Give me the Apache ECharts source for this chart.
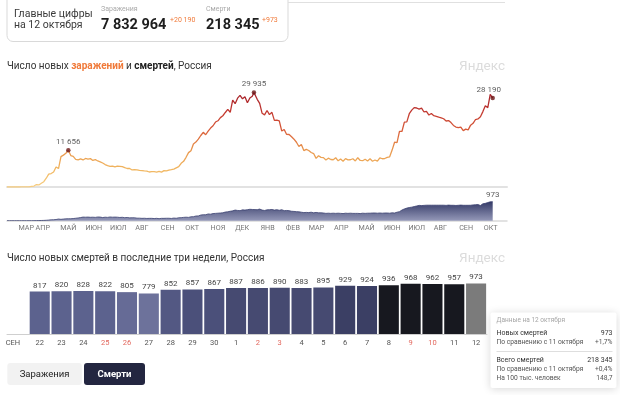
<!DOCTYPE html>
<html><head><meta charset="utf-8">
<script src="https://cdn.jsdelivr.net/npm/echarts@6/dist/echarts.min.js"></script>
<style>html,body{margin:0;padding:0;background:#fff}#c{width:620px;height:395px}</style>
</head><body><div id="c"></div><script>
// ---- data ----
const dates = [
'2020-02-26','2020-02-29','2020-03-03','2020-03-06','2020-03-09','2020-03-12','2020-03-15','2020-03-18','2020-03-21','2020-03-24',
'2020-03-27','2020-03-30','2020-04-02','2020-04-05','2020-04-08','2020-04-11','2020-04-14','2020-04-17','2020-04-20','2020-04-23',
'2020-04-26','2020-04-29','2020-05-02','2020-05-05','2020-05-08','2020-05-11','2020-05-14','2020-05-17','2020-05-20','2020-05-23',
'2020-05-26','2020-05-29','2020-06-01','2020-06-04','2020-06-07','2020-06-10','2020-06-13','2020-06-16','2020-06-19','2020-06-22',
'2020-06-25','2020-06-28','2020-07-01','2020-07-04','2020-07-07','2020-07-10','2020-07-13','2020-07-16','2020-07-19','2020-07-22',
'2020-07-25','2020-07-28','2020-07-31','2020-08-03','2020-08-06','2020-08-09','2020-08-12','2020-08-15','2020-08-18','2020-08-21',
'2020-08-24','2020-08-27','2020-08-30','2020-09-02','2020-09-05','2020-09-08','2020-09-11','2020-09-14','2020-09-17','2020-09-20',
'2020-09-23','2020-09-26','2020-09-29','2020-10-02','2020-10-05','2020-10-08','2020-10-11','2020-10-14','2020-10-17','2020-10-20',
'2020-10-23','2020-10-26','2020-10-29','2020-11-01','2020-11-04','2020-11-07','2020-11-10','2020-11-13','2020-11-16','2020-11-19',
'2020-11-22','2020-11-25','2020-11-28','2020-12-01','2020-12-04','2020-12-07','2020-12-10','2020-12-13','2020-12-16','2020-12-19',
'2020-12-22','2020-12-24','2020-12-28','2020-12-31','2021-01-03','2021-01-06','2021-01-09','2021-01-12','2021-01-15','2021-01-18',
'2021-01-21','2021-01-24','2021-01-27','2021-01-30','2021-02-02','2021-02-05','2021-02-08','2021-02-11','2021-02-14','2021-02-17',
'2021-02-20','2021-02-23','2021-02-26','2021-03-01','2021-03-04','2021-03-07','2021-03-10','2021-03-13','2021-03-16','2021-03-19',
'2021-03-22','2021-03-25','2021-03-28','2021-03-31','2021-04-03','2021-04-06','2021-04-09','2021-04-12','2021-04-15','2021-04-18',
'2021-04-21','2021-04-24','2021-04-27','2021-04-30','2021-05-03','2021-05-06','2021-05-09','2021-05-12','2021-05-15','2021-05-18',
'2021-05-21','2021-05-24','2021-05-27','2021-05-30','2021-06-02','2021-06-05','2021-06-08','2021-06-11','2021-06-14','2021-06-17',
'2021-06-20','2021-06-23','2021-06-26','2021-06-29','2021-07-02','2021-07-05','2021-07-08','2021-07-11','2021-07-14','2021-07-17',
'2021-07-20','2021-07-23','2021-07-26','2021-07-29','2021-08-01','2021-08-04','2021-08-07','2021-08-10','2021-08-13','2021-08-16',
'2021-08-19','2021-08-22','2021-08-25','2021-08-28','2021-08-31','2021-09-03','2021-09-06','2021-09-09','2021-09-12','2021-09-15',
'2021-09-18','2021-09-21','2021-09-24','2021-09-27','2021-09-30','2021-10-03','2021-10-06','2021-10-09','2021-10-12'];
const cases = [
0,0,1,3,3,6,20,33,53,57,
196,302,771,658,1175,1667,2774,4070,4268,4774,
6361,5841,9623,10102,10699,11656,9974,9709,8764,8599,
8915,8572,9035,8831,8984,8404,8706,8248,7972,7600,
7113,6791,6556,6632,6368,6635,6537,6428,6109,5862,
5871,5395,5482,5427,5267,5189,5102,5061,4748,4870,
4852,4711,4980,4729,5195,5099,5363,5509,5670,6065,
6431,7523,8135,9412,10888,11493,13634,14231,15150,16319,
17340,16550,17717,18665,19404,20582,20977,21983,22572,23610,
24581,23675,27543,26402,28145,29039,27927,28585,26689,28209,
28776,29935,27787,26513,23351,22850,24246,22934,23652,21127,
21152,20921,17741,18241,16643,16627,15916,15144,14185,12828,
13433,11534,11940,11571,10940,10595,9079,9908,9393,9299,
8558,9128,8711,8634,9270,8294,8885,8173,8992,8589,
8632,8945,8271,9284,8407,8328,8790,8217,8926,8165,
8554,8173,9252,8951,9022,9371,9554,11699,14185,14057,
17611,17594,20538,20616,23218,24353,25140,25033,24702,25018,
23770,23947,22804,23270,22589,22400,22144,21932,21624,20914,
21058,20402,19509,18985,18780,18992,17856,18341,18106,19594,
20174,21379,21559,22236,23888,25781,25133,29362,28190];
const deaths = [
0,0,0,0,0,0,0,0,0,1,
2,3,5,7,11,15,22,32,45,50,
60,85,70,85,95,100,100,110,125,140,
160,185,180,185,175,180,170,190,185,160,
180,170,190,180,185,180,165,175,155,165,
145,150,150,130,130,120,125,115,120,120,
110,120,105,120,120,125,125,115,135,125,
150,155,170,180,170,200,205,240,245,290,
305,305,345,335,365,375,385,395,405,445,
455,485,505,545,525,515,555,545,565,585,
575,585,565,595,545,525,555,565,575,545,
565,535,565,515,525,515,485,475,465,455,
435,415,425,415,435,405,425,405,405,395,
375,385,375,385,375,385,375,365,385,375,
385,375,375,375,365,385,375,385,385,395,
395,385,395,385,395,395,385,405,395,435,
465,545,605,645,675,695,725,755,785,775,
785,795,795,795,795,795,795,795,795,785,
800,790,790,780,790,800,790,790,790,792,
810,820,828,779,867,890,929,968,973];
const peakDates = ['2020-05-11','2020-12-24','2021-10-12'];
const peakValues = [11656, 29935, 28190];
const monthTickDates = ['2020-03-11','2020-04-01','2020-05-01','2020-06-01','2020-07-01','2020-08-01','2020-09-01','2020-10-01','2020-11-01','2020-12-01',
'2021-01-01','2021-02-01','2021-03-01','2021-04-01','2021-05-01','2021-06-01','2021-07-01','2021-08-01','2021-09-01','2021-10-01'];
const monthLabels = ['МАР','АПР','МАЙ','ИЮН','ИЮЛ','АВГ','СЕН','ОКТ','НОЯ','ДЕК','ЯНВ','ФЕВ','МАР','АПР','МАЙ','ИЮН','ИЮЛ','АВГ','СЕН','ОКТ'];
const barMonth = 'СЕН';
const barDays = ['22','23','24','25','26','27','28','29','30','1','2','3','4','5','6','7','8','9','10','11','12'];
const barDeaths = [817,820,828,822,805,779,852,857,867,887,886,890,883,895,929,924,936,968,962,957,973];
const weekendDays = ['25','26','2','3','9','10'];

// ---- helpers ----
const ts = s => { const p = s.split('-'); return new Date(+p[0], +p[1]-1, +p[2]).getTime(); };
const fmt = v => String(v).replace(/\B(?=(\d{3})+(?!\d))/g, ' ');
const FF = 'Roboto, "Open Sans", sans-serif';
const xMin = ts('2020-02-26');
const xMax = ts('2021-10-29') + 12*3600*1000;
const monthTicks = monthTickDates.map(ts);

function barColor(v, i) {
  if (i === barDeaths.length) return '#7b7b7b';
  if (v < 790) return '#6d729b';
  if (v < 815) return '#666b96';
  if (v < 830) return '#5c628e';
  if (v < 855) return '#535883';
  if (v < 870) return '#4b507a';
  if (v < 900) return '#464a71';
  if (v < 932) return '#3b3f64';
  return '#17181f';
}

const chart = echarts.init(document.getElementById('c'), null, {renderer: 'canvas'});
const txt = (x, y, text, o) => ({type: 'text', x, y, silent: true, style: Object.assign({text, fontFamily: FF, fontSize: 8, fill: '#333', verticalAlign: 'middle', align: 'left'}, o || {})});

const graphics = [
  {type: 'rect', shape: {x: 7, y: -6, width: 281, height: 47.5, r: 6}, style: {fill: '#fff', stroke: '#d9d9d9', lineWidth: 1}},
  {type: 'line', shape: {x1: 288, y1: 2.5, x2: 505, y2: 2.5}, style: {stroke: '#e0e0e0', lineWidth: 1}},
  txt(14, 14, 'Главные цифры', {fontSize: 10.5, fill: '#3a3a3a'}),
  txt(14, 25.5, 'на 12 октября', {fontSize: 10.5, fill: '#3a3a3a'}),
  txt(101, 9.5, 'Заражения', {fontSize: 7, fill: '#aaa'}),
  txt(101, 25.5, '7 832 964', {fontSize: 14.5, fontWeight: 'bold', fill: '#1e1e1e'}),
  txt(170, 20.5, '+20 190', {fontSize: 7, fill: '#f07a3a'}),
  txt(206, 9.5, 'Смерти', {fontSize: 7, fill: '#aaa'}),
  txt(206, 25.5, '218 345', {fontSize: 14.5, fontWeight: 'bold', fill: '#1e1e1e'}),
  txt(262, 20.5, '+973', {fontSize: 7, fill: '#f07a3a'}),
  {type: 'text', x: 7, y: 66.7, silent: true, style: {
    text: '{a|Число новых }{b|заражений}{a| и }{c|смертей}{a|, Россия}', verticalAlign: 'middle', align: 'left',
    rich: {
      a: {fontFamily: FF, fontSize: 10, fill: '#333', color: '#333'},
      b: {fontFamily: FF, fontSize: 10, fill: '#f07a3a', color: '#f07a3a', fontWeight: 'bold'},
      c: {fontFamily: FF, fontSize: 10, fill: '#222', color: '#222', fontWeight: 'bold'}
    }}},
  txt(505, 66.7, 'Яндекс', {fontSize: 13.5, fill: '#dcdcdc', align: 'right'}),
  txt(7, 258.3, 'Число новых смертей в последние три недели, Россия', {fontSize: 10, fill: '#333'}),
  txt(505, 258.3, 'Яндекс', {fontSize: 13.5, fill: '#dcdcdc', align: 'right'}),
  // buttons
  {type: 'rect', shape: {x: 7.3, y: 363, width: 74.5, height: 22, r: 3}, style: {fill: '#f2f2f2'}},
  txt(44.5, 374.2, 'Заражения', {fontSize: 9.5, fill: '#222', align: 'center'}),
  {type: 'rect', shape: {x: 84, y: 363, width: 61, height: 22, r: 3}, style: {fill: '#232640'}},
  txt(114.5, 374.2, 'Смерти', {fontSize: 9.5, fill: '#fff', fontWeight: 'bold', align: 'center'}),
  // tooltip box
  {type: 'rect', shape: {x: 490.5, y: 312.5, width: 126, height: 75.5, r: 2}, style: {fill: '#fff', shadowBlur: 8, shadowColor: 'rgba(0,0,0,0.16)', shadowOffsetY: 1}},
  txt(496.5, 320.5, 'Данные на 12 октября', {fontSize: 6.5, fill: '#a5a5a5'}),
  txt(496.5, 333.3, 'Новых смертей', {fontSize: 7, fill: '#333'}),
  txt(612.5, 333.3, '973', {fontSize: 7, fill: '#333', align: 'right'}),
  txt(496.5, 342.5, 'По сравнению с 11 октября', {fontSize: 6.7, fill: '#555'}),
  txt(612.5, 342.5, '+1,7%', {fontSize: 6.7, fill: '#555', align: 'right'}),
  {type: 'line', shape: {x1: 496.5, y1: 351.5, x2: 612.5, y2: 351.5}, style: {stroke: '#dedede', lineWidth: 1}},
  txt(496.5, 360.5, 'Всего смертей', {fontSize: 7, fill: '#333'}),
  txt(612.5, 360.5, '218 345', {fontSize: 7, fill: '#333', align: 'right'}),
  txt(496.5, 369.5, 'По сравнению с 11 октября', {fontSize: 6.7, fill: '#555'}),
  txt(612.5, 369.5, '+0,4%', {fontSize: 6.7, fill: '#555', align: 'right'}),
  txt(496.5, 378.5, 'На 100 тыс. человек', {fontSize: 6.7, fill: '#555'}),
  txt(612.5, 378.5, '148,7', {fontSize: 6.7, fill: '#555', align: 'right'})
];

const option = {
  animation: false,
  textStyle: {fontFamily: FF},
  grid: [
    {left: 7, right: 113, top: 86, height: 101},
    {left: 7, right: 113, top: 196.7, height: 24},
    {left: 7, width: 480, top: 282, height: 52}
  ],
  xAxis: [
    {type: 'value', gridIndex: 0, min: xMin, max: xMax, scale: true,
     axisLine: {show: true, onZero: false, lineStyle: {color: '#e2e2e2', width: 2}}, axisTick: {show: false}, axisLabel: {show: false}, splitLine: {show: false}},
    {type: 'value', gridIndex: 1, min: xMin, max: xMax, scale: true,
     axisLine: {show: true, onZero: false, lineStyle: {color: '#d9d9d9', width: 1.5}}, axisTick: {show: false}, splitLine: {show: false},
     axisLabel: {show: true, customValues: monthTicks, hideOverlap: false, showMinLabel: true, showMaxLabel: true,
       align: 'left', margin: 4, fontSize: 7.2, color: '#777', fontFamily: FF,
       formatter: v => { const i = monthTicks.indexOf(v); return i >= 0 ? monthLabels[i] : ''; }}},
    {type: 'category', gridIndex: 2, data: [barMonth].concat(barDays),
     axisLine: {show: true, lineStyle: {color: '#cfcfcf', width: 1}}, axisTick: {show: false},
     axisLabel: {interval: 0, margin: 5,
       formatter: (v, i) => i === 0 ? '{m|' + v + '}' : (weekendDays.indexOf(v) >= 0 ? '{w|' + v + '}' : '{n|' + v + '}'),
       rich: {m: {fontSize: 7.5, color: '#555', padding: [0, 10, 0, 0]}, w: {fontSize: 7.5, color: '#e2675d'}, n: {fontSize: 7.5, color: '#555'}}}}
  ],
  yAxis: [
    {type: 'value', gridIndex: 0, min: 0, max: 32000, show: false},
    {type: 'value', gridIndex: 1, min: 0, max: 1230, show: false},
    {type: 'value', gridIndex: 2, min: 0, max: 1000, show: false}
  ],
  visualMap: [{type: 'continuous', show: false, seriesIndex: 0, dimension: 1, min: 0, max: 30000,
    inRange: {color: ['#f6cd80', '#f0b45e', '#e8944c', '#d95c39', '#c1362f', '#a4222b']}}],
  series: [
    {type: 'line', xAxisIndex: 0, yAxisIndex: 0, showSymbol: false, z: 3,
     lineStyle: {width: 1.3}, data: dates.map((d, i) => [ts(d), cases[i]])},
    {type: 'scatter', xAxisIndex: 0, yAxisIndex: 0, symbol: 'circle', symbolSize: 4.5, z: 5,
     itemStyle: {color: '#6a1515'},
     label: {show: true, position: 'top', distance: 2, fontSize: 8, color: '#333', formatter: p => fmt(p.value[1])},
     data: peakDates.map((d, i) => (i === peakDates.length - 1 ? {value: [ts(d), peakValues[i]], label: {offset: [-4, 0]}} : [ts(d), peakValues[i]]))},
    {type: 'line', xAxisIndex: 1, yAxisIndex: 1, showSymbol: false,
     lineStyle: {width: 0.8, color: '#3a4070'},
     areaStyle: {color: new echarts.graphic.LinearGradient(0, 0, 0, 1, [{offset: 0, color: '#343a67'}, {offset: 1, color: '#9498b8'}]), opacity: 1},
     data: dates.map((d, i) => [ts(d), deaths[i]])},
    {type: 'scatter', xAxisIndex: 1, yAxisIndex: 1, symbolSize: 0,
     label: {show: true, position: 'top', distance: 3, fontSize: 8, color: '#333', formatter: p => fmt(p.value[1])},
     data: [[ts(dates[dates.length - 1]), deaths[deaths.length - 1]]]},
    {type: 'bar', xAxisIndex: 2, yAxisIndex: 2, barCategoryGap: '8%',
     itemStyle: {color: p => barColor(p.value, p.dataIndex)},
     label: {show: true, position: 'top', distance: 2, fontSize: 8, color: '#444'},
     data: ['-'].concat(barDeaths)}
  ],
  graphic: graphics
};
chart.setOption(option);
</script></body></html>
